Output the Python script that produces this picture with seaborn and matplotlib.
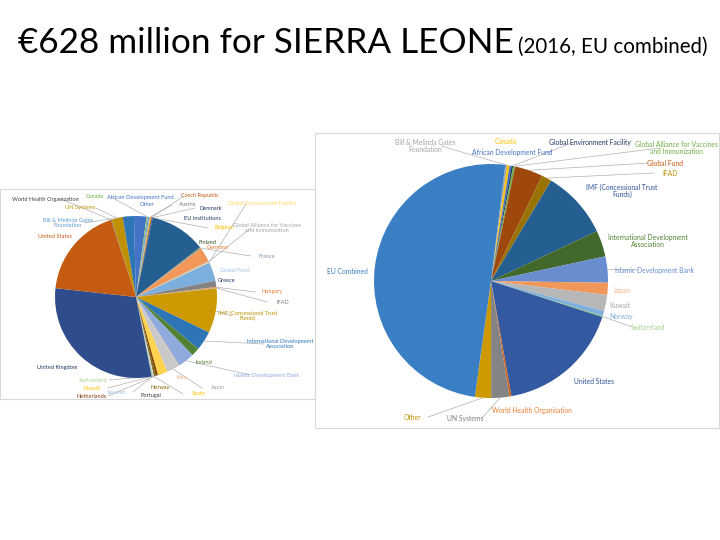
import numpy as np
import matplotlib.pyplot as plt
import seaborn as sns
from matplotlib.patches import Rectangle

# left chart: all donors incl. member states (EUR million)
left_labels = ["World Health Organization", "UN Systems", "Bill & Melinda Gates\nFoundation", "Other",
               "Canada", "African Development Fund", "Austria", "Belgium", "Czech Republic", "Denmark",
               "EU institutions", "Finland", "France", "Germany",
               "Global Alliance for Vaccines\nand Immunization", "Global Environment Facility",
               "Global Fund", "Greece", "Hungary", "IFAD", "IMF (Concessional Trust\nFunds)",
               "International Development\nAssociation", "Ireland", "Islamic Development Bank",
               "Italy", "Japan", "Kuwait", "Netherlands", "Norway", "Portugal", "Spain", "Sweden",
               "Switzerland", "United Kingdom", "United States"]
left_values = [0.9, 14, 14, 15.7,
               1.7, 1.7, 1.2, 1.0, 1.2, 1.0,
               70, 1.0, 1.2, 18.3,
               1.2, 1.0,
               23.5, 7.8, 0.9, 0.9, 56,
               24.4, 10.5, 21,
               0.9, 15.7, 12.2, 2.6, 1.7, 0.9, 0.9, 0.9,
               0.9, 188, 115]

# right chart: EU member states combined into one
right_labels = ["Bill & Melinda Gates\nFoundation", "Canada", "African Development Fund",
                "Global Environment Facility", "Global Alliance for Vaccines\nand Immunization",
                "Global Fund", "IFAD", "IMF (Concessional Trust\nFunds)",
                "International Development\nAssociation", "Islamic Development Bank", "Japan",
                "Kuwait", "Norway", "Switzerland", "United States", "World Health Organisation",
                "UN Systems", "Other", "EU Combined"]
right_values = [1.7, 2.1, 1.7, 1.4, 1.7, 24.4, 8.7, 59, 22.7, 22.7, 10.5, 14, 4.4, 0.9,
                108, 1.7, 15.7, 14, 312]

left_colors = ["#636363", "#BF9000", "#2E75B6", "#4472C4", "#8CC168", "#5B9BD5", "#A5A5A5",
               "#FFC000", "#C55A11", "#264478", "#255E91", "#43682B", "#8497B0", "#F1975A",
               "#B7B7B7", "#FFD966", "#7CAFDD", "#848484", "#ED7D31", "#A5A5A5", "#CC9A00",
               "#2E75B6", "#548235", "#8FAADC", "#F4B183", "#C9C9C9", "#FFD34D", "#7B3F00",
               "#806000", "#3A3A1A", "#FFE699", "#9DC3E6", "#A9D18E", "#2F4D8C", "#C55A11"]
right_colors = ["#A5A5A5", "#FFC000", "#4472C4", "#1F3864", "#70AD47", "#9E480E", "#997300",
                "#255E91", "#43682B", "#698ED0", "#F1975A", "#B7B7B7", "#7CAFDD", "#8CC168",
                "#335AA1", "#D26012", "#848484", "#CC9A00", "#3A7EC4"]
left_text = ["#404040", "#BF9000", "#5B9BD5", "#4472C4", "#70AD47", "#4472C4", "#7F7F7F",
             "#FFC000", "#C55A11", "#1F3864", "#1F3864", "#375623", "#8497B0", "#ED7D31",
             "#A5A5A5", "#FFD966", "#9DC3E6", "#1F3864", "#ED7D31", "#7F7F7F", "#BF9000",
             "#2E75B6", "#548235", "#8FAADC", "#F4B183", "#A5A5A5", "#FFC000", "#843C0C",
             "#806000", "#404040", "#FFC000", "#9DC3E6", "#A9D18E", "#1F3864", "#C55A11"]
right_text = ["#A5A5A5", "#FFC000", "#4472C4", "#1F3864", "#70AD47", "#C55A11", "#BF9000",
              "#2F5597", "#548235", "#698ED0", "#F4B183", "#A5A5A5", "#7CAFDD", "#A9D18E",
              "#2F5597", "#ED7D31", "#7F7F7F", "#BF9000", "#3A7EC4"]

# label placement on the slide, in pixels from the top-left corner
left_pos = {
    "World Health Organization": (45, 199), "UN Systems": (80, 208),
    "Bill & Melinda Gates\nFoundation": (68, 223), "Other": (147, 205),
    "Canada": (95, 197), "African Development Fund": (140, 197), "Austria": (188, 205),
    "Belgium": (224, 228), "Czech Republic": (200, 196), "Denmark": (211, 208),
    "EU institutions": (202, 218), "Finland": (207, 242), "France": (267, 256),
    "Germany": (218, 248), "Global Alliance for Vaccines\nand Immunization": (267, 228),
    "Global Environment Facility": (262, 204), "Global Fund": (235, 270), "Greece": (227, 280),
    "Hungary": (272, 292), "IFAD": (283, 302), "IMF (Concessional Trust\nFunds)": (248, 316),
    "International Development\nAssociation": (280, 344), "Ireland": (204, 363),
    "Islamic Development Bank": (267, 375), "Italy": (182, 377), "Japan": (218, 388),
    "Kuwait": (92, 388), "Netherlands": (92, 396), "Norway": (160, 387), "Portugal": (151, 395),
    "Spain": (199, 394), "Sweden": (117, 392), "Switzerland": (93, 380),
    "United Kingdom": (57, 367), "United States": (55, 236),
}
right_pos = {
    "Bill & Melinda Gates\nFoundation": (425, 146), "Canada": (506, 142),
    "African Development Fund": (512, 152), "Global Environment Facility": (590, 142),
    "Global Alliance for Vaccines\nand Immunization": (676, 148), "Global Fund": (665, 163),
    "IFAD": (670, 173), "IMF (Concessional Trust\nFunds)": (622, 191),
    "International Development\nAssociation": (648, 241), "Islamic Development Bank": (655, 270),
    "Japan": (622, 291), "Kuwait": (620, 306), "Norway": (621, 317), "Switzerland": (648, 327),
    "United States": (594, 381), "World Health Organisation": (532, 411),
    "UN Systems": (465, 419), "Other": (412, 417), "EU Combined": (347, 272),
}
# labels sitting right next to their slice, drawn without a leader line
no_leader_left = {"Global Fund", "United Kingdom", "United States"}
no_leader_right = {"IMF (Concessional Trust\nFunds)", "International Development\nAssociation",
                   "United States", "EU Combined"}

W, H = 720, 540
sns.set_theme(style="white")
plt.rcParams['font.family'] = ['Lato', 'DejaVu Sans']

fig = plt.figure(figsize=(7.2, 5.4), dpi=100)
ax = fig.add_axes([0, 0, 1, 1])


def draw_pie(values, colors, tcolors, labels, pos, cx, cy, r, start, fs, quiet):
    wedges, _ = ax.pie(values, colors=colors, startangle=start, counterclock=False,
                       center=(cx, H - cy), radius=r, frame=True,
                       wedgeprops=dict(linewidth=0))
    for w, lab, tc in zip(wedges, labels, tcolors):
        lx, ly = pos[lab]
        ly = H - ly
        ax.text(lx, ly, lab, fontsize=fs, color=tc, ha="center", va="center",
                linespacing=1.0)
        if lab in quiet:
            continue
        mid = np.deg2rad((w.theta1 + w.theta2) / 2)
        ex, ey = cx + r * np.cos(mid), H - cy + r * np.sin(mid)
        # leader line only when the label sits away from its slice
        if np.hypot(lx - ex, ly - ey) > 30:
            tx = lx - 16 if ex < lx else lx + 16
            ax.plot([ex, tx], [ey, ly], color="#B0B0B0", lw=0.5, zorder=0)


# picture frames pasted on the slide
ax.add_patch(Rectangle((0, H - 399), 315, 210, fill=False, ec="#D9D9D9", lw=0.8))
ax.add_patch(Rectangle((315, H - 428), 404, 295, fill=False, ec="#D9D9D9", lw=0.8))

draw_pie(left_values, left_colors, left_text, left_labels, left_pos, 136, 297, 81, 108, 4.1,
         no_leader_left)
draw_pie(right_values, right_colors, right_text, right_labels, right_pos, 491, 281, 117, 83, 4.9,
         no_leader_right)

ax.set_xlim(0, W)
ax.set_ylim(0, H)
ax.axis("off")

ax.text(18, H - 53, "€628 million for SIERRA LEONE", fontsize=25.3, color="black",
        ha="left", va="baseline")
ax.text(518, H - 53, "(2016, EU combined)", fontsize=14.8, color="black", ha="left",
        va="baseline")

fig.savefig("out.png", dpi=100, facecolor="white")
